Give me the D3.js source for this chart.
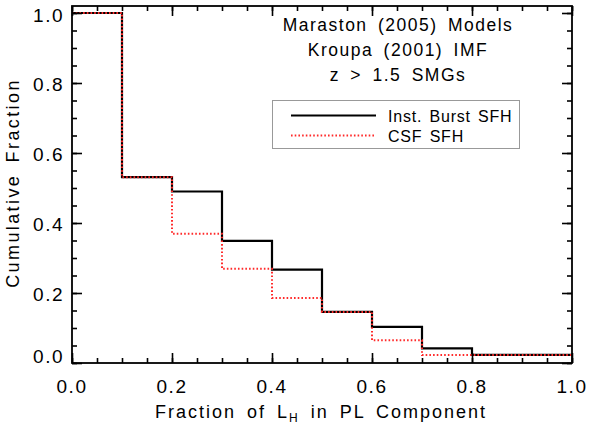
<!DOCTYPE html>
<html><head><meta charset="utf-8">
<script src="https://cdn.jsdelivr.net/npm/d3@7/dist/d3.min.js"></script>
<style>
html,body{margin:0;padding:0;background:#fff;}
svg text{font-family:"Liberation Sans",Arial,sans-serif;fill:#000;}
</style></head>
<body>
<svg id="chart" width="598" height="448"></svg>
<script>
// ---- data ----
const binEdges = [0.0, 0.1, 0.2, 0.3, 0.4, 0.5, 0.6, 0.7, 0.8, 0.9, 1.0];
const burstSFH = [1.0, 0.531, 0.490, 0.349, 0.267, 0.146, 0.103, 0.042, 0.023, 0.023];
const csfSFH   = [1.0, 0.531, 0.369, 0.269, 0.186, 0.146, 0.065, 0.023, 0.023, 0.023];
const xTicks = [0.0, 0.2, 0.4, 0.6, 0.8, 1.0];
const yTicks = [0.0, 0.2, 0.4, 0.6, 0.8, 1.0];
const titleLines = ["Maraston (2005) Models", "Kroupa (2001) IMF", "z > 1.5 SMGs"];
const legendLabels = ["Inst. Burst SFH", "CSF SFH"];

const svg = d3.select("#chart");
const L = 72, R = 572, T = 6, B = 363;
const x = d3.scaleLinear().domain([0, 1]).range([L, R]);
const y = d3.scaleLinear().domain([0, 1.02]).range([B, T]);

const stepPts = vals => vals.map((v, i) => [binEdges[i], v]).concat([[binEdges[binEdges.length - 1], vals[vals.length - 1]]]);
const line = d3.line().x(d => x(d[0])).y(d => y(d[1])).curve(d3.curveStepAfter);

// histograms
svg.append("path").attr("d", line(stepPts(burstSFH)))
  .attr("fill", "none").attr("stroke", "#000").attr("stroke-width", 2.2);
svg.append("path").attr("d", line(stepPts(csfSFH)))
  .attr("fill", "none").attr("stroke", "#ff2a2a").attr("stroke-width", 2)
  .attr("stroke-dasharray", "1.6,2.1");

// axes with inward ticks
const fmt = d3.format(".1f");
const minorX = d3.range(0, 1.0001, 0.05);
const minorY = d3.range(0, 1.0001, 0.05);
const ax = svg.append("g");
ax.append("g").attr("transform", `translate(0,${B})`)
  .call(d3.axisBottom(x).tickValues(minorX).tickSize(-5).tickFormat(""));
ax.append("g").attr("transform", `translate(0,${B})`)
  .call(d3.axisBottom(x).tickValues(xTicks).tickSize(-10).tickFormat(""));
ax.append("g").attr("transform", `translate(0,${T})`)
  .call(d3.axisTop(x).tickValues(minorX).tickSize(-5).tickFormat(""));
ax.append("g").attr("transform", `translate(0,${T})`)
  .call(d3.axisTop(x).tickValues(xTicks).tickSize(-10).tickFormat(""));
ax.append("g").attr("transform", `translate(${L},0)`)
  .call(d3.axisLeft(y).tickValues(minorY).tickSize(-5).tickFormat(""));
ax.append("g").attr("transform", `translate(${L},0)`)
  .call(d3.axisLeft(y).tickValues(yTicks).tickSize(-10).tickFormat(""));
ax.append("g").attr("transform", `translate(${R},0)`)
  .call(d3.axisRight(y).tickValues(minorY).tickSize(-5).tickFormat(""));
ax.append("g").attr("transform", `translate(${R},0)`)
  .call(d3.axisRight(y).tickValues(yTicks).tickSize(-10).tickFormat(""));
ax.selectAll(".domain").remove();
ax.selectAll("line").attr("stroke", "#000").attr("stroke-width", 1.6);
svg.append("rect").attr("x", L).attr("y", T).attr("width", R - L).attr("height", B - T)
  .attr("fill", "none").attr("stroke", "#000").attr("stroke-width", 1.8);

// tick labels
svg.append("g").selectAll("text").data(xTicks).join("text")
  .attr("x", d => x(d)).attr("y", 393)
  .attr("text-anchor", "middle").attr("font-size", 19).attr("letter-spacing", 1.5)
  .text(d => fmt(d));
svg.append("g").selectAll("text").data(yTicks).join("text")
  .attr("x", 64).attr("y", d => Math.max(Math.min(y(d) + 8, B), T + 16))
  .attr("text-anchor", "end").attr("font-size", 19).attr("letter-spacing", 1.5)
  .text(d => fmt(d));

// axis titles
const xt = svg.append("text").attr("x", 321).attr("y", 418)
  .attr("text-anchor", "middle").attr("font-size", 18)
  .attr("letter-spacing", 2).attr("word-spacing", 4);
xt.append("tspan").text("Fraction of L");
xt.append("tspan").attr("font-size", 12).attr("dy", 4).text("H");
xt.append("tspan").attr("dy", -4).text(" in PL Component");
svg.append("text").attr("transform", "translate(19,183) rotate(-90)")
  .attr("text-anchor", "middle").attr("font-size", 18)
  .attr("letter-spacing", 2.4).attr("word-spacing", 4)
  .text("Cumulative Fraction");

// title block
svg.append("g").selectAll("text").data(titleLines).join("text")
  .attr("x", 398).attr("y", (d, i) => 31 + i * 25)
  .attr("text-anchor", "middle").attr("font-size", 17.5)
  .attr("letter-spacing", 1.5).attr("word-spacing", 4)
  .text(d => d);

// legend
const lg = svg.append("g");
lg.append("rect").attr("x", 272.5).attr("y", 100.5).attr("width", 247).attr("height", 48)
  .attr("fill", "#fff").attr("stroke", "#999").attr("stroke-width", 1);
const legendStyles = [{stroke: "#000", w: 2.2, dash: null}, {stroke: "#ff2a2a", w: 2, dash: "1.6,2.1"}];
legendLabels.forEach((lab, i) => {
  const yy = 115.5 + i * 20;
  lg.append("line").attr("x1", 291).attr("x2", 376).attr("y1", yy).attr("y2", yy)
    .attr("stroke", legendStyles[i].stroke).attr("stroke-width", legendStyles[i].w)
    .attr("stroke-dasharray", legendStyles[i].dash);
  lg.append("text").attr("x", 388).attr("y", yy + 6).attr("font-size", 16)
    .attr("letter-spacing", 0.8).attr("word-spacing", 2).text(lab);
});
</script>
</body></html>
